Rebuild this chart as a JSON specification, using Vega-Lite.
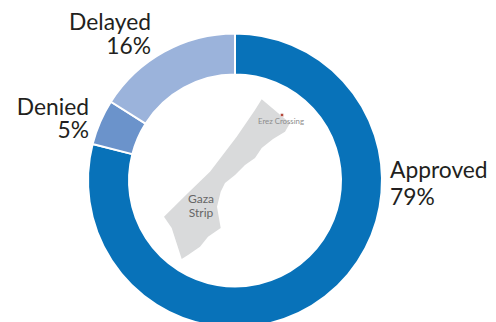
{
  "$schema": "https://vega.github.io/schema/vega-lite/v6.json",
  "width": 470,
  "height": 361,
  "padding": {"left": 0, "top": 0, "right": 26, "bottom": 0},
  "autosize": {"type": "none"},
  "background": "white",
  "view": {"stroke": null},
  "config": {"text": {"font": "Lato"}},
  "datasets": {
    "permits": [
      {"category": "Approved", "share": 0.79, "rank": 1},
      {"category": "Denied", "share": 0.05, "rank": 2},
      {"category": "Delayed", "share": 0.16, "rank": 3}
    ],
    "gaza": [
      {"type": "Feature", "properties": {"name": "Gaza Strip"}, "geometry": {"type": "Polygon", "coordinates": [[
        [261.7, 99.3], [278, 113], [290, 123], [285, 131.7], [273, 139], [261.7, 148], [255, 158],
        [245, 165], [235, 175], [225, 183], [220.7, 191.7], [217, 206.7], [220.7, 228], [208, 236.7],
        [200, 246.7], [188, 255], [181.7, 259], [171.7, 228], [164, 216.7], [188, 193], [210, 171.7],
        [236.7, 136.7], [255, 110], [261.7, 99.3]
      ]]}}
    ],
    "places": [
      {"name": "Erez Crossing", "lon": 281, "lat": 121.5}
    ],
    "strip": [
      {"name": ["Gaza", "Strip"], "lon": 201, "lat": 198.5}
    ],
    "crossing": [
      {"lon": 282, "lat": 115}
    ]
  },
  "projection": {"type": "identity", "scale": 1, "translate": [0, 0]},
  "layer": [
    {
      "data": {"name": "permits"},
      "mark": {"type": "arc", "innerRadius": 106, "outerRadius": 147, "stroke": "white", "strokeWidth": 2},
      "encoding": {
        "theta": {"field": "share", "type": "quantitative", "stack": true, "scale": {"domain": [0, 1], "range": [0, 6.2832]}},
        "order": {"field": "rank", "type": "ordinal"},
        "color": {
          "field": "category",
          "type": "nominal",
          "legend": null,
          "scale": {"domain": ["Approved", "Denied", "Delayed"], "range": ["#0872b9", "#6b93cb", "#9bb3db"]}
        }
      }
    },
    {
      "data": {"name": "gaza"},
      "mark": {"type": "geoshape", "fill": "#d9dadb", "stroke": null},
      "encoding": {}
    },
    {
      "data": {"name": "places"},
      "mark": {"type": "text", "fontSize": 7.8, "color": "#8c8c8c", "align": "center", "baseline": "middle"},
      "encoding": {
        "longitude": {"field": "lon", "type": "quantitative"},
        "latitude": {"field": "lat", "type": "quantitative"},
        "text": {"field": "name"}
      }
    },
    {
      "data": {"name": "crossing"},
      "mark": {"type": "circle", "size": 14, "color": "#b5483a", "stroke": "#f2f2f2", "strokeWidth": 0.8, "opacity": 1},
      "encoding": {
        "longitude": {"field": "lon", "type": "quantitative"},
        "latitude": {"field": "lat", "type": "quantitative"}
      }
    },
    {
      "data": {"name": "strip"},
      "mark": {"type": "text", "fontSize": 12, "color": "#666666", "align": "center", "baseline": "middle", "lineHeight": 14},
      "encoding": {
        "longitude": {"field": "lon", "type": "quantitative"},
        "latitude": {"field": "lat", "type": "quantitative"},
        "text": {"field": "name"}
      }
    },
    {
      "data": {"name": "permits"},
      "transform": [
        {"filter": "datum.category === 'Approved'"},
        {"calculate": "[datum.category, format(datum.share, '.0%')]", "as": "caption"}
      ],
      "mark": {"type": "text", "fontSize": 22.8, "color": "#231f20", "align": "left", "baseline": "alphabetic", "lineHeight": 27, "dx": 155, "dy": -3},
      "encoding": {"text": {"field": "caption"}}
    },
    {
      "data": {"name": "permits"},
      "transform": [
        {"filter": "datum.category === 'Denied'"},
        {"calculate": "[datum.category, format(datum.share, '.0%')]", "as": "caption"}
      ],
      "mark": {"type": "text", "fontSize": 22.8, "color": "#231f20", "align": "right", "baseline": "alphabetic", "lineHeight": 23, "dx": -146, "dy": -66},
      "encoding": {"text": {"field": "caption"}}
    },
    {
      "data": {"name": "permits"},
      "transform": [
        {"filter": "datum.category === 'Delayed'"},
        {"calculate": "[datum.category, format(datum.share, '.0%')]", "as": "caption"}
      ],
      "mark": {"type": "text", "fontSize": 22.8, "color": "#231f20", "align": "right", "baseline": "alphabetic", "lineHeight": 24, "dx": -84, "dy": -151},
      "encoding": {"text": {"field": "caption"}}
    }
  ]
}
